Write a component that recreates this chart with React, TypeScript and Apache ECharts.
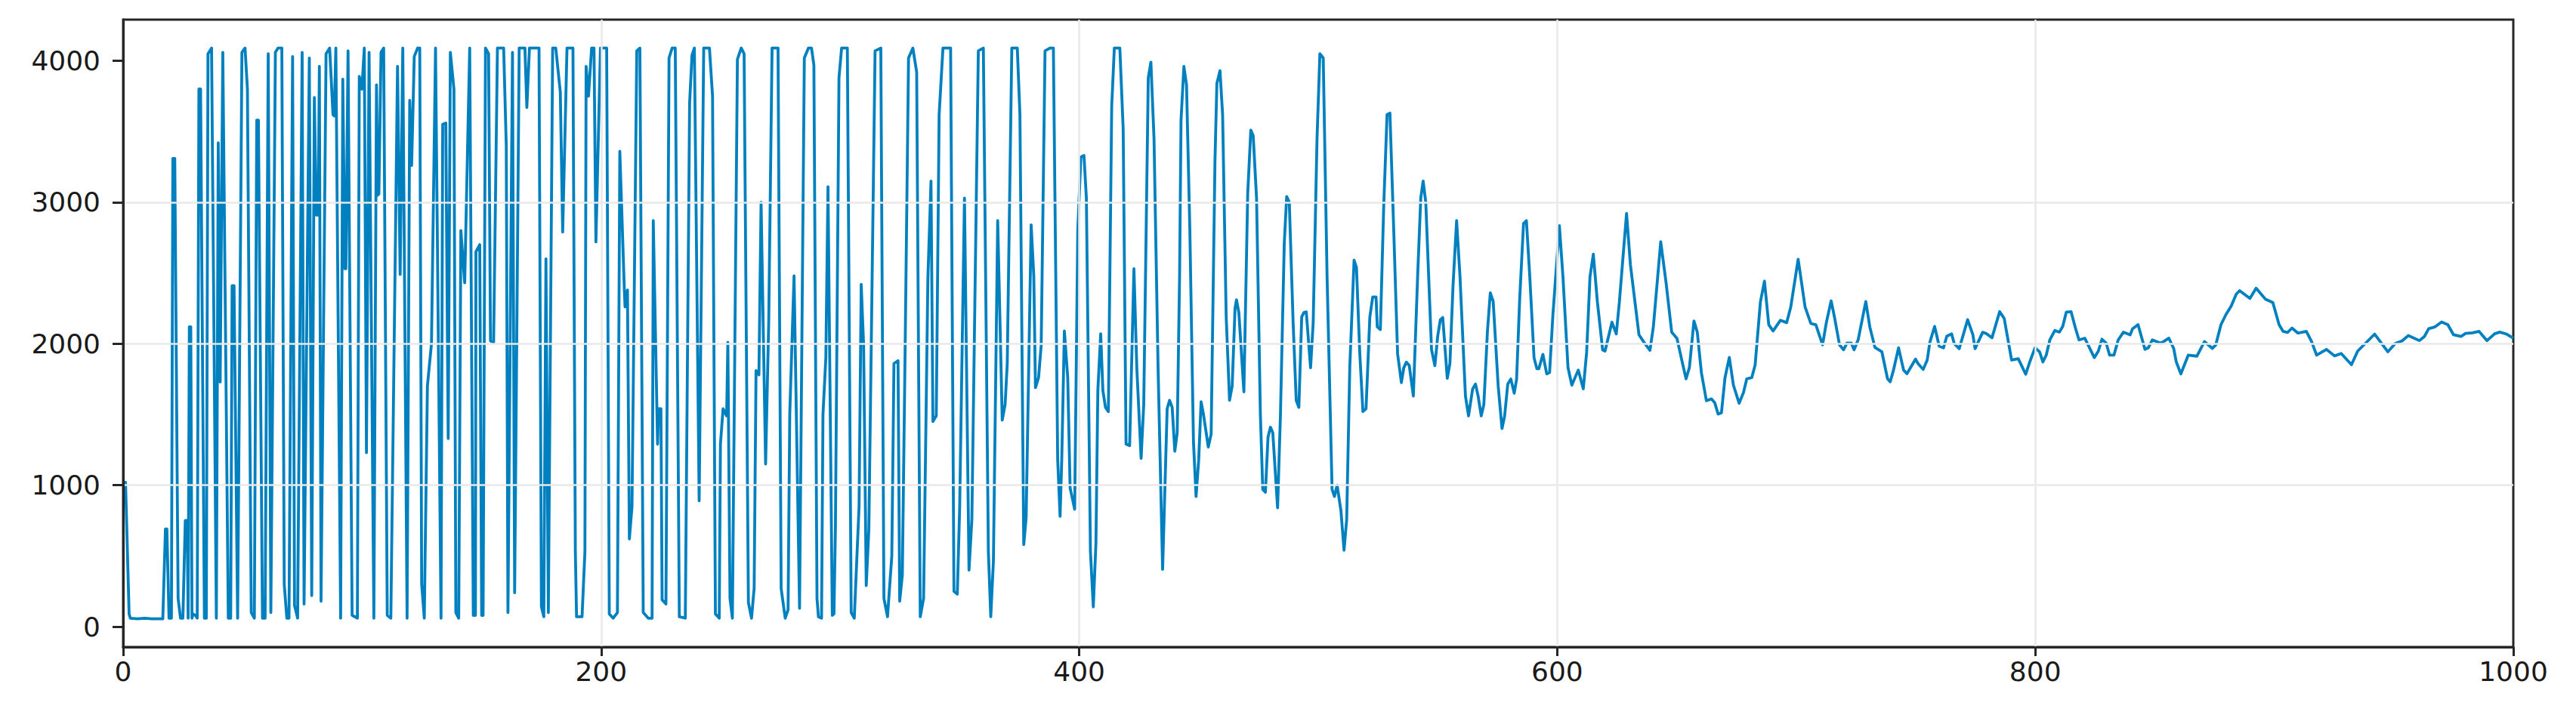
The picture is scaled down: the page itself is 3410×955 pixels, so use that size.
import React, { useEffect, useRef } from "react";
import * as echarts from "echarts";

type P = [number, number];

const xTickValues = [0, 200, 400, 600, 800, 1000];
const yTickValues = [0, 1000, 2000, 3000, 4000];

// Saturated, chaotic start of the trace
const burstA: P[] = [
  [0, 1020], [1, 1020], [2.5, 90], [3, 60], [6, 55], [9, 60], [12, 55], [16.6, 55], [17.7, 690], [18.3, 690], [19.2, 60], [20.2, 60],
  [20.8, 3310], [21.6, 3310], [23, 200], [24, 60], [25, 60], [26, 750], [26.8, 750], [27.2, 60], [27.7, 2120], [28.3, 2120], [28.8, 60],
  [29.2, 90], [30.2, 80], [31, 60], [31.7, 3800], [32.4, 3800], [34, 60], [34.8, 60], [35.5, 4050], [37, 4090], [39, 60],
  [39.8, 3420], [40.6, 1730], [41.7, 4060], [44, 60], [45, 60], [45.6, 2410], [46.4, 2410], [47.9, 60], [49.7, 4060], [51, 4090], [52, 3800],
  [53.6, 100], [54.9, 60], [55.9, 3580], [56.6, 3580], [58.3, 60], [59.4, 60], [60.7, 4050], [61.8, 100], [63.7, 4060], [64.8, 4090], [66.4, 4090], [67.4, 300],
  [68.5, 60], [69.4, 60], [70.9, 4030], [71.7, 150], [73, 60], [74.9, 4060], [75.7, 160], [77.9, 4020], [78.9, 220], [80, 3740], [80.8, 2910], [81.6, 2910],
  [82.1, 3960], [82.8, 180], [84.9, 4050], [86.4, 4090], [87.8, 3620], [88.3, 3610], [89, 4090], [91, 60], [91.9, 3870], [92.8, 2530], [93.2, 2530],
  [94.1, 4070], [95.8, 80], [98, 60], [98.8, 3890], [99.9, 3800], [100.9, 4090], [101.8, 1230], [102.9, 4060], [104.9, 60], [106, 3830], [106.5, 3050], [107, 3060],
  [107.9, 4060], [109, 4090], [110.5, 80], [112, 60], [114.8, 3960], [115.9, 2490], [117, 4090], [118.8, 60], [119.9, 3720], [120.7, 3260], [121.8, 4030],
  [123.2, 4090], [124.1, 4090], [124.9, 300], [126, 60], [127.3, 1700], [129, 2000], [130.7, 4090], [133, 60],
];

const burstB: P[] = [
  [133.7, 3550], [135, 3560], [136, 1330], [136.9, 4060], [138.4, 3800], [139.2, 100], [140.4, 60], [141.3, 2800], [142.9, 2430], [145, 4090], [146.5, 80], [147.4, 80],
  [147.6, 2650], [149.2, 2700], [150, 80], [150.6, 80], [151.6, 4090], [152.9, 4050], [153.7, 2020], [155, 2010], [156.6, 4090], [159.2, 4090], [160.3, 3400], [161, 100],
  [162.9, 4060], [163.8, 240], [165.7, 4090], [168.1, 4090], [168.9, 3670], [170, 4090], [174, 4090], [175, 140], [176, 70], [176.9, 2600], [177.9, 100],
  [179.7, 4090], [181, 4090], [182.9, 3780], [183.9, 2790], [185.7, 4090], [188.2, 4090], [189.2, 530], [189.7, 70], [192, 70], [193.2, 530], [193.7, 3960], [194.7, 3750],
  [196, 4090], [197, 4090], [197.8, 2720], [199.7, 4090], [202.3, 4090], [203.4, 90], [205, 60], [206.8, 100], [207.8, 3360], [209.7, 2380], [210, 2260], [211, 2380],
  [211.8, 620], [212.9, 850], [214.9, 4070], [216.2, 4090], [217.6, 100], [219.7, 60], [221.3, 60], [221.8, 2870], [223.6, 1290], [224, 1540], [225, 1540], [225.5, 190], [227.1, 160],
  [228.4, 4020], [229.7, 4090], [231, 4090], [232.7, 70], [235.2, 60], [237, 3700], [238, 4040], [239, 4090], [241, 890], [242.9, 4090], [245.3, 4090], [246.6, 3750], [247.8, 90], [249.4, 60],
  [249.9, 1290], [251, 1540], [252.5, 1490], [253, 2010], [253.9, 200], [254.9, 60], [257, 4010], [258.6, 4090], [259.8, 4050], [261.6, 170], [262.9, 60], [264, 270], [264.8, 1810],
  [266, 1780], [266.9, 3000], [268.8, 1150], [270.1, 2150], [271.5, 4090], [274, 4090], [275.3, 270], [277, 60], [278.2, 120], [278.9, 1500], [280.7, 2480], [283, 130],
  [285, 4020], [286.7, 4090], [288, 4090], [289, 3970], [290.3, 200], [290.9, 70], [292.2, 60], [292.8, 1500], [294, 1900], [294.9, 3110], [296.7, 80], [297.4, 90], [298, 690],
  [299.5, 3880], [300.6, 4090], [303, 4090], [304.6, 100], [305.9, 60], [307.9, 850], [308.8, 2420], [309.8, 1990], [310.9, 290], [312, 690], [314.6, 4070], [317, 4090],
  [318.3, 200], [319.8, 70], [321.6, 500], [322.5, 1860], [324.2, 1880], [324.9, 180], [326, 365], [327.2, 2000], [328.6, 4020], [330.4, 4090], [332, 3920], [333.5, 70], [334.9, 200],
  [336.7, 2470], [338, 3150], [338.8, 1450], [340.2, 1490], [341.4, 3620], [343, 4090], [346.2, 4090], [347.6, 250], [349, 230], [350, 850], [352, 3030], [353.9, 400], [355.1, 760],
  [357.8, 4070], [359.9, 4090], [362, 530], [363, 70], [364.1, 460], [365.9, 2870], [367.8, 1460], [369, 1570], [369.9, 1860], [371.8, 4090], [374.1, 4090], [375.2, 3620],
  [376.8, 580], [377.8, 770], [379.9, 2840], [381, 2480], [381.7, 1690], [383, 1760], [384.1, 1990], [385.7, 4070], [387.8, 4090], [389.2, 4090], [391, 1180], [392, 780], [392.7, 1180],
  [393.8, 2090], [395.2, 1760], [396.2, 980], [398.1, 830], [399.4, 2800], [400.7, 3320], [402, 3330], [403, 3030], [404.7, 530], [405.9, 140], [407, 590], [407.8, 1670], [409, 2070],
  [409.9, 1670], [411, 1550], [412.2, 1520], [413.6, 3680], [414.7, 4090], [417, 4090], [418.4, 3520], [419.6, 1290], [421.1, 1280], [422.9, 2530], [424.1, 1830], [425.9, 1190],
  [427, 1570], [428.9, 3880], [430, 3990], [431.3, 3450], [433, 1830], [434.9, 405],
];

// Oscillation that is dying away
const decay: P[] = [
  [436.8, 1540], [437.8, 1600], [438.9, 1550], [440, 1240], [441, 1370], [442, 2480], [442.6, 3580], [443.8, 3960], [444.9, 3830], [446.3, 2800], [447.8, 1310], [448.9, 920],
  [450, 1180], [451, 1590], [452, 1500], [454, 1270], [455.2, 1360], [456.8, 3290], [457.6, 3840], [458.9, 3930], [460, 3620], [461.5, 2190], [462.9, 1600], [464, 1700],
  [465.2, 2250], [465.8, 2310], [466.8, 2220], [468.9, 1660], [470.5, 3060], [471.8, 3510], [472.8, 3470], [474.2, 3030], [475.8, 1500], [476.8, 970], [477.9, 950], [479, 1340],
  [480, 1410], [481, 1370], [483, 840], [484.2, 1500], [485.8, 2710], [486.8, 3040], [487.9, 3000], [489.5, 2150], [490.8, 1600], [491.9, 1550], [493.1, 2190], [494, 2220], [495, 2225],
  [496.8, 1830], [497.9, 2150], [499.5, 3450], [500.7, 4050], [502.1, 4020], [503.7, 2480], [505.8, 970], [506.8, 920], [507.9, 1000], [509.5, 820], [510.8, 540], [511.9, 755],
  [513.2, 1830], [515, 2590], [516, 2540], [517.4, 1930], [518.7, 1520], [520, 1540], [521.6, 2190], [522.8, 2330], [524.2, 2330], [524.7, 2120], [526, 2100], [527.4, 2970], [528.8, 3620],
  [530, 3630], [531.6, 2800], [533.2, 1930], [534.8, 1725], [535.8, 1830], [536.9, 1870], [538.1, 1845], [539.8, 1630], [541.6, 2480], [542.9, 3030], [543.9, 3150], [545, 3000],
  [547.4, 1960], [548.8, 1845], [550, 2055], [551.1, 2170], [552.1, 2185], [554, 1755], [555.1, 1860], [556.4, 2410], [557.9, 2870], [559.3, 2480], [561.6, 1630], [562.9, 1490],
  [564.6, 1680], [565.8, 1715], [566.9, 1630], [568.2, 1490], [569.3, 1570], [570.8, 2090], [572, 2360], [573.2, 2300], [575.3, 1700], [576.9, 1400], [578, 1490], [579.3, 1715],
  [580.6, 1750], [582, 1650], [583, 1750], [584.3, 2320], [585.9, 2850], [587.1, 2870], [588.5, 2480], [590.3, 1900], [591.5, 1823], [592.3, 1823], [594, 1925], [595.6, 1787], [596.8, 1797],
  [598.2, 2206], [600.9, 2834], [602.4, 2472], [604.5, 1832], [606.1, 1707], [608.8, 1814], [610.9, 1681], [612.3, 1939], [613.7, 2472], [615.1, 2633], [616.8, 2295], [619, 1956],
  [620, 1948], [622.9, 2152], [624.7, 2069], [626, 2295], [629, 2921], [630.6, 2561], [634.2, 2063], [636.3, 2010], [638.8, 1953], [640.2, 2117], [643.3, 2721], [645.5, 2437],
  [647.9, 2081], [650.1, 2037], [652.1, 1885], [653.9, 1752], [655.3, 1832], [657.2, 2161], [658.6, 2081], [660.3, 1797], [662.4, 1597], [664.5, 1610], [665.9, 1583], [667.3, 1503],
  [668.7, 1512], [670.2, 1761], [672, 1903], [673.7, 1708], [676.1, 1579], [677.9, 1654], [679.3, 1752], [681.4, 1761], [682.8, 1850], [685, 2295], [686.7, 2442], [688.5, 2134],
  [690.3, 2090], [693.4, 2166], [696, 2149], [697.7, 2259], [700.8, 2597], [703.7, 2259], [706.1, 2143], [708.2, 2134], [711, 1992], [712.6, 2150], [714.6, 2303], [716, 2188], [718.1, 1992],
  [719.8, 1957], [721.2, 2005], [723, 2005], [724.2, 1957], [725.9, 2028], [729.1, 2298], [730.8, 2117], [732.9, 1974], [735.8, 1944], [738.2, 1752], [739.3, 1731], [740.7, 1814],
  [742.8, 1971], [744.9, 1814], [746.3, 1788], [749.9, 1891], [751, 1859], [753.1, 1818], [754.8, 1885], [755.9, 2010], [757.9, 2122], [759.8, 1983], [761.6, 1971], [763, 2054],
  [765, 2069], [766.1, 2001], [768.2, 1965], [771.7, 2170], [773.9, 2063], [774.8, 1965], [778, 2081], [779.5, 2072], [781.9, 2042], [785.1, 2227], [787, 2179], [790.1, 1885],
  [792.9, 1894], [796, 1784], [797.8, 1876], [799.9, 1971],
];

// Settled tail around 2000
const settle: P[] = [
  [801.8, 1943], [803.2, 1871], [804.6, 1920], [806.1, 2027], [808.2, 2094], [810.1, 2082], [811.5, 2123], [813, 2224], [815, 2226], [816.8, 2111], [818.3, 2027], [820.7, 2039], [824.7, 1902],
  [826.4, 1948], [827.9, 2032], [829.7, 2003], [831.1, 1919], [832.9, 1919], [834.7, 2027], [836.9, 2082], [839.7, 2063], [840.7, 2106], [843, 2135], [845.9, 1960], [847.3, 1972],
  [849, 2027], [852.6, 2003], [855.9, 2039], [857.9, 1967], [859, 1871], [860.9, 1787], [864, 1919], [867.6, 1912], [870.8, 2015], [874.1, 1967], [875.5, 1991], [877.7, 2135],
  [879.8, 2207], [882, 2267], [884.1, 2351], [885.5, 2375], [889.8, 2320], [892.4, 2392], [896.3, 2315], [899.4, 2291], [902, 2135], [903.7, 2087], [905.6, 2080], [907.4, 2111],
  [909.9, 2075], [913.4, 2087], [915.6, 2015], [917.7, 1919], [921.8, 1960], [925.2, 1914], [928, 1931], [932.3, 1852], [934.9, 1948], [942, 2068], [947.5, 1943], [950.7, 2003],
  [953.5, 2020], [956.1, 2058], [960.7, 2022], [962.8, 2051], [964.6, 2106], [967.1, 2118], [970, 2154], [972.6, 2135], [975, 2063], [978.1, 2051], [980, 2073], [982.9, 2077],
  [985.7, 2087], [989, 2022], [992.2, 2070], [994.3, 2082], [997.2, 2068], [1000, 2039],
];

const trace: P[] = [...burstA, ...burstB, ...decay, ...settle];

export default function App() {
  const ref = useRef<HTMLDivElement>(null);
  useEffect(() => {
    document.body.style.margin = "0";
    const chart = echarts.init(ref.current!, undefined, { renderer: "svg" });
    const ink = "#262626";
    const labelStyle = { color: "#1a1a1a", fontFamily: "DejaVu Sans", fontSize: 36 };
    const gridLine = { show: true, showMinLine: false, showMaxLine: false, lineStyle: { color: "#e9e9e9", width: 2.5 } };
    chart.setOption({
      animation: false,
      backgroundColor: "#ffffff",
      grid: {
        left: 163, top: 26, width: 3164, height: 831,
        show: true, borderColor: ink, borderWidth: 3, backgroundColor: "transparent",
      },
      xAxis: {
        type: "value", min: 0, max: 1000, interval: 200, z: 5,
        axisLine: { show: true, onZero: false, lineStyle: { color: ink, width: 3 } },
        axisTick: { show: true, length: 12, customValues: xTickValues, lineStyle: { color: ink, width: 3 } },
        axisLabel: { ...labelStyle, margin: 14, customValues: xTickValues, formatter: (v: number) => String(v) },
        splitLine: gridLine,
      },
      yAxis: {
        type: "value", min: -144, max: 4291, interval: 1000, z: 5,
        axisLine: { show: true, onZero: false, lineStyle: { color: ink, width: 3 } },
        axisTick: { show: true, length: 14, customValues: yTickValues, lineStyle: { color: ink, width: 3 } },
        axisLabel: { ...labelStyle, margin: 30, customValues: yTickValues, formatter: (v: number) => String(v) },
        splitLine: gridLine,
      },
      series: [
        {
          type: "line", data: trace, showSymbol: false, smooth: false,
          lineStyle: { color: "#0080bf", width: 3.8, join: "round" }, emphasis: { disabled: true },
        },
      ],
    });
    return () => chart.dispose();
  }, []);
  return <div ref={ref} style={{ width: 3410, height: 955 }} />;
}
